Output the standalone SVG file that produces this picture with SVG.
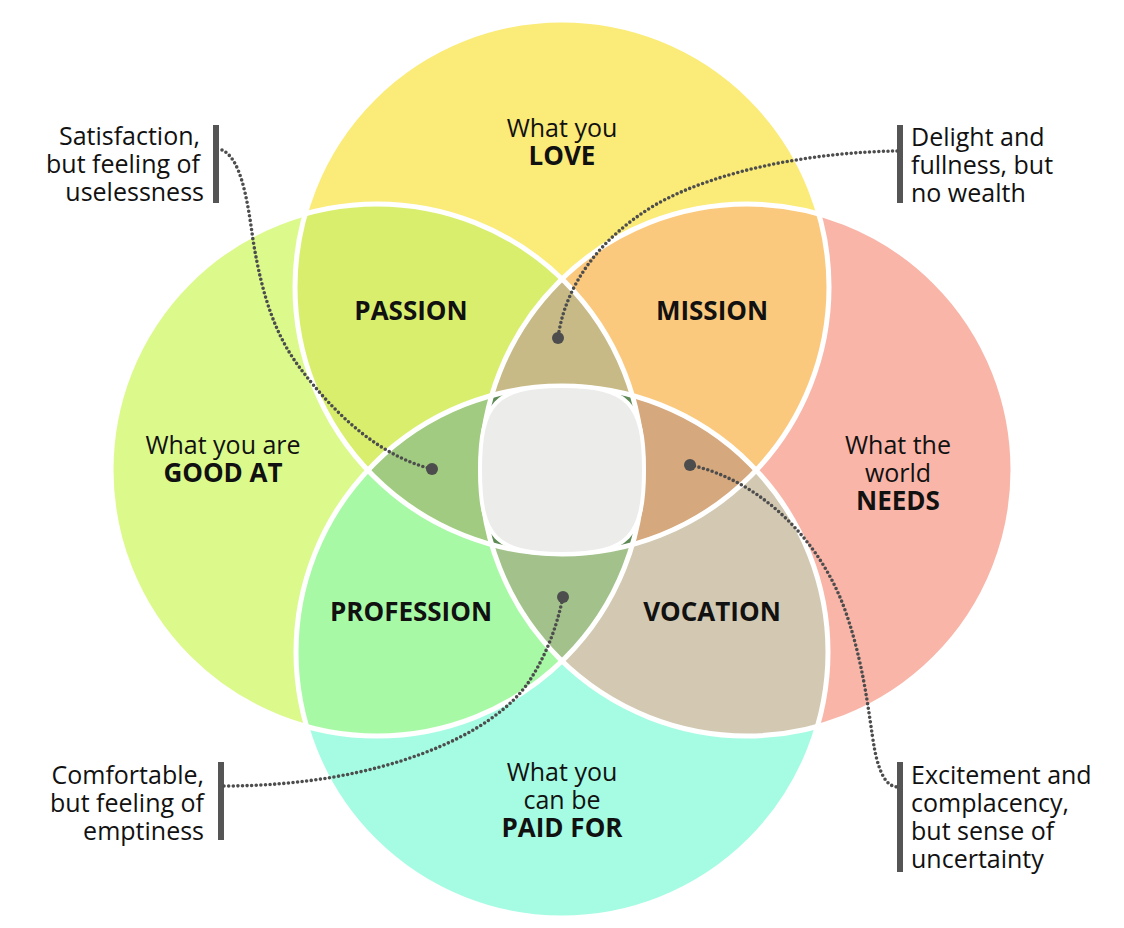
<svg xmlns="http://www.w3.org/2000/svg" width="1124" height="928" viewBox="0 0 1124 928">
<style>
text{font-family:"Open Sans","Liberation Sans",sans-serif;font-size:25px;fill:#111}
.c{text-anchor:middle}
.e{text-anchor:end}
.b{font-weight:700;font-size:26px}
.ring{fill:none;stroke:#fff;stroke-width:5}
.conn{fill:none;stroke:#4d4d4d;stroke-width:3.6;stroke-linecap:round;stroke-dasharray:0 4.6}
.bar{fill:#555}
.end{fill:#4d4d4d}
</style>
<defs>
<clipPath id="cT"><circle cx="562" cy="287" r="267"/></clipPath>
<clipPath id="cL"><circle cx="377" cy="470" r="266"/></clipPath>
<clipPath id="cR"><circle cx="747" cy="470" r="266"/></clipPath>
<clipPath id="cB"><circle cx="562" cy="652" r="266"/></clipPath>
</defs>
<rect width="1124" height="928" fill="#fff"/>

<g id="circles">
<circle cx="562" cy="287" r="267" fill="#fbeb78"/>
<circle cx="377" cy="470" r="266" fill="#dcfa8c"/>
<circle cx="747" cy="470" r="266" fill="#f9b5a8"/>
<circle cx="562" cy="652" r="266" fill="#a5fce3"/>
</g>

<g id="overlaps">
<g clip-path="url(#cT)"><rect x="0" y="0" width="1124" height="928" fill="#daee6e" clip-path="url(#cL)"/></g>
<g clip-path="url(#cT)"><rect x="0" y="0" width="1124" height="928" fill="#fbc97d" clip-path="url(#cR)"/></g>
<g clip-path="url(#cB)"><rect x="0" y="0" width="1124" height="928" fill="#a8f9a6" clip-path="url(#cL)"/></g>
<g clip-path="url(#cB)"><rect x="0" y="0" width="1124" height="928" fill="#d3c9b2" clip-path="url(#cR)"/></g>
<g clip-path="url(#cT)"><g clip-path="url(#cL)"><rect x="0" y="0" width="1124" height="928" fill="#c8ba87" clip-path="url(#cR)"/></g></g>
<g clip-path="url(#cT)"><g clip-path="url(#cL)"><rect x="0" y="0" width="1124" height="928" fill="#a0cb80" clip-path="url(#cB)"/></g></g>
<g clip-path="url(#cT)"><g clip-path="url(#cR)"><rect x="0" y="0" width="1124" height="928" fill="#d5a87d" clip-path="url(#cB)"/></g></g>
<g clip-path="url(#cL)"><g clip-path="url(#cR)"><rect x="0" y="0" width="1124" height="928" fill="#a3c28b" clip-path="url(#cB)"/></g></g>
<g clip-path="url(#cT)"><g clip-path="url(#cL)"><g clip-path="url(#cR)"><rect x="0" y="0" width="1124" height="928" fill="#5e8a55" clip-path="url(#cB)"/></g></g></g>
</g>

<g id="rings">
<circle class="ring" cx="562" cy="287" r="267"/>
<circle class="ring" cx="377" cy="470" r="266"/>
<circle class="ring" cx="747" cy="470" r="266"/>
<circle class="ring" cx="562" cy="652" r="266"/>
</g>

<g id="center">
<path d="M562,386 C628,386 644,403 644,470 C644,537 628,554 562,554 C496,554 480,537 480,470 C480,403 496,386 562,386 Z" fill="#ececeb" stroke="#fff" stroke-width="4"/>
</g>

<g id="love"><text class="c" x="562" y="137">What you</text><text class="c b" x="562" y="165">LOVE</text></g>
<g id="goodat"><text class="c" x="223" y="454">What you are</text><text class="c b" x="223" y="482">GOOD AT</text></g>
<g id="needs"><text class="c" x="898" y="454">What the</text><text class="c" x="898" y="482">world</text><text class="c b" x="898" y="510">NEEDS</text></g>
<g id="paidfor"><text class="c" x="562" y="781">What you</text><text class="c" x="562" y="809">can be</text><text class="c b" x="562" y="837">PAID FOR</text></g>
<g id="passion"><text class="c b" x="411" y="320">PASSION</text></g>
<g id="mission"><text class="c b" x="712" y="320">MISSION</text></g>
<g id="profession"><text class="c b" x="411" y="621">PROFESSION</text></g>
<g id="vocation"><text class="c b" x="712" y="621">VOCATION</text></g>

<g id="note-satisfaction">
<rect class="bar" x="213" y="125" width="6" height="78"/>
<text class="e" x="200" y="145">Satisfaction,</text>
<text class="e" x="200" y="173">but feeling of</text>
<text class="e" x="204" y="201">uselessness</text>
</g>
<g id="note-delight">
<rect class="bar" x="897" y="125" width="6" height="78"/>
<text x="911" y="146">Delight and</text>
<text x="911" y="174">fullness, but</text>
<text x="911" y="202">no wealth</text>
</g>
<g id="note-comfortable">
<rect class="bar" x="218" y="762" width="6" height="78"/>
<text class="e" x="204" y="784">Comfortable,</text>
<text class="e" x="204" y="812">but feeling of</text>
<text class="e" x="204" y="840">emptiness</text>
</g>
<g id="note-excitement">
<rect class="bar" x="897" y="762" width="6" height="110"/>
<text x="911" y="784">Excitement and</text>
<text x="911" y="812">complacency,</text>
<text x="911" y="840">but sense of</text>
<text x="911" y="868">uncertainty</text>
</g>

<g id="connectors">
<path class="conn" d="M222,150 C240,158 247,195 253,240 C262,295 275,335 300,368 C330,408 375,455 432,469"/>
<path class="conn" d="M897,151 C820,152 720,168 655,205 C600,238 565,285 558,338"/>
<path class="conn" d="M224,786 C380,786 495,735 530,680 C548,652 557,625 563,597"/>
<path class="conn" d="M690,465 C760,480 820,540 845,610 C868,675 870,735 877,760 C882,778 888,786 897,787"/>
<circle class="end" cx="432" cy="469" r="6"/>
<circle class="end" cx="558" cy="338" r="6"/>
<circle class="end" cx="563" cy="597" r="6"/>
<circle class="end" cx="690" cy="465" r="6"/>
</g>
</svg>
